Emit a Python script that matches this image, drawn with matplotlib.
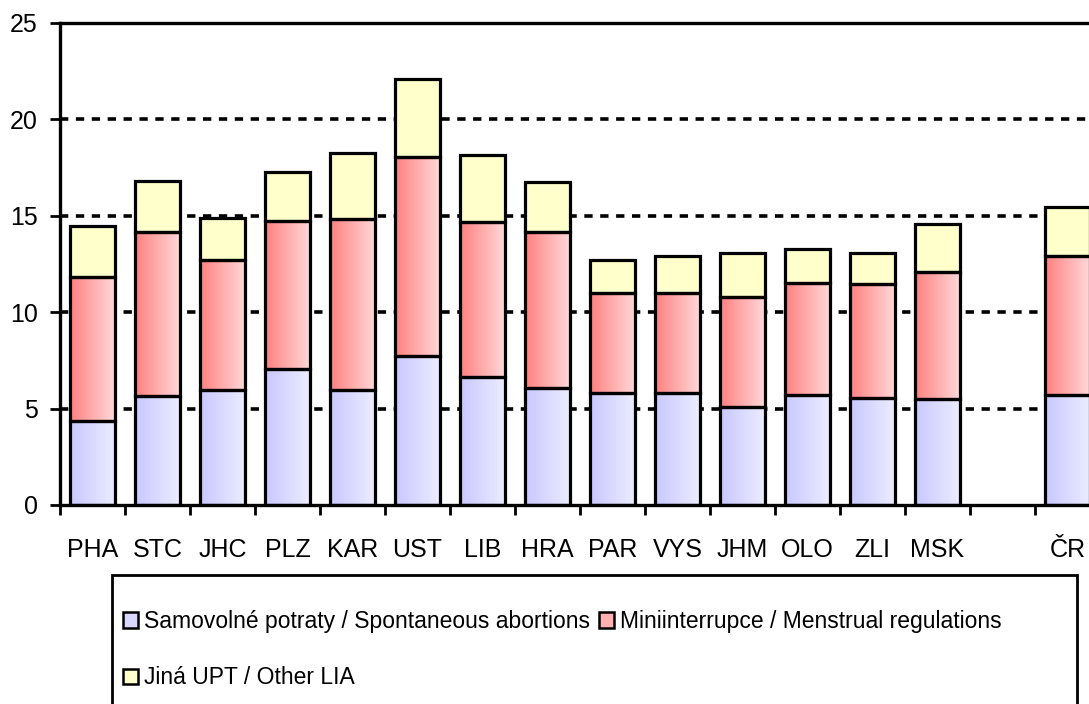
import numpy as np
import matplotlib.pyplot as plt
from matplotlib.colors import to_rgb
from matplotlib.patches import Patch, Rectangle

plt.rcParams['font.family'] = ['Liberation Sans Narrow', 'Liberation Sans', 'DejaVu Sans']

# Values (per 1000 women)
regions = ["PHA", "STC", "JHC", "PLZ", "KAR", "UST", "LIB", "HRA",
           "PAR", "VYS", "JHM", "OLO", "ZLI", "MSK", "", "ČR"]
spontaneous = [4.35, 5.64, 5.98, 7.04, 5.95, 7.75, 6.64, 6.07,
               5.79, 5.79, 5.08, 5.69, 5.57, 5.52, np.nan, 5.72]
menstrual = [7.50, 8.50, 6.72, 7.69, 8.86, 10.32, 8.04, 8.07,
             5.18, 5.18, 5.70, 5.80, 5.87, 6.57, np.nan, 7.20]
other = [2.62, 2.66, 2.20, 2.54, 3.47, 4.03, 3.48, 2.63,
         1.75, 1.94, 2.28, 1.77, 1.61, 2.48, np.nan, 2.53]
yticks = [0, 5, 10, 15, 20, 25]

series_labels = ["Samovolné potraty / Spontaneous abortions",
                 "Miniinterrupce / Menstrual regulations",
                 "Jiná UPT / Other LIA"]
# left -> right gradient colours of each series
gradients = [("#c8c8ff", "#ececff"), ("#ff8080", "#ffd8d8"), ("#ffffcc", "#ffffcc")]

fig = plt.figure(figsize=(10.89, 7.04), dpi=100)
ax = fig.add_axes([60 / 1089, 199 / 704, 1040 / 1089, 482 / 704])

x = np.arange(len(regions))
width = 0.68
bottom = np.zeros(len(regions))
for vals, (c0, c1) in zip([spontaneous, menstrual, other], gradients):
    vals = np.array(vals)
    bars = ax.bar(x, vals, width, bottom=bottom, facecolor='none',
                  edgecolor='black', linewidth=2.3, zorder=3)
    grad = np.linspace(to_rgb(c0), to_rgb(c1), 64)[None, :, :]
    for b, v in zip(bars, vals):
        if np.isnan(v):
            continue
        ax.imshow(grad, extent=(b.get_x(), b.get_x() + b.get_width(),
                                b.get_y(), b.get_y() + b.get_height()),
                  aspect='auto', interpolation='bilinear', zorder=2)
    bottom = bottom + np.nan_to_num(vals)

ax.set_xlim(-0.5, len(regions) - 0.5)
ax.set_ylim(yticks[0], yticks[-1])

# dashed gridlines (not on the axis lines themselves)
for yv in yticks[1:-1]:
    ax.axhline(yv, color='black', linewidth=2.6, linestyle=(0, (2.3, 2.1)), zorder=1)

ax.set_yticks(yticks)
ax.set_xticks(x)
ax.set_xticklabels(regions)
ax.set_xticks(np.arange(-0.5, len(regions)), minor=True)
ax.tick_params(axis='x', which='major', length=0, pad=24, labelsize=18)
ax.tick_params(axis='x', which='minor', length=7, width=2, direction='out')
ax.tick_params(axis='y', length=7, width=2, direction='out', pad=9, labelsize=18)

for s in ['left', 'bottom', 'top']:
    ax.spines[s].set_linewidth(2.4)
    ax.spines[s].set_color('black')
    ax.spines[s].set_zorder(4)
ax.spines['right'].set_visible(False)

# legend
handles = [Patch(facecolor=c, edgecolor='black', linewidth=1.8)
           for c in ["#d8d8ff", "#ffb0b0", "#ffffcc"]]
leg = fig.legend([handles[0], handles[2], handles[1]],
                 [series_labels[0], series_labels[2], series_labels[1]],
                 ncol=2, loc='upper left', bbox_to_anchor=(114 / 1089, 1 - 601 / 704),
                 frameon=False, fontsize=16.5, handlelength=0.65, handleheight=0.65,
                 handletextpad=0.25, columnspacing=0.4, labelspacing=1.45,
                 borderaxespad=0)
fig.patches.append(Rectangle((112 / 1089, -0.02), (1077 - 112) / 1089, 0.02 + 1 - 575 / 704,
                             transform=fig.transFigure, fill=False,
                             edgecolor='black', linewidth=2))

fig.savefig("out.png", dpi=100)
